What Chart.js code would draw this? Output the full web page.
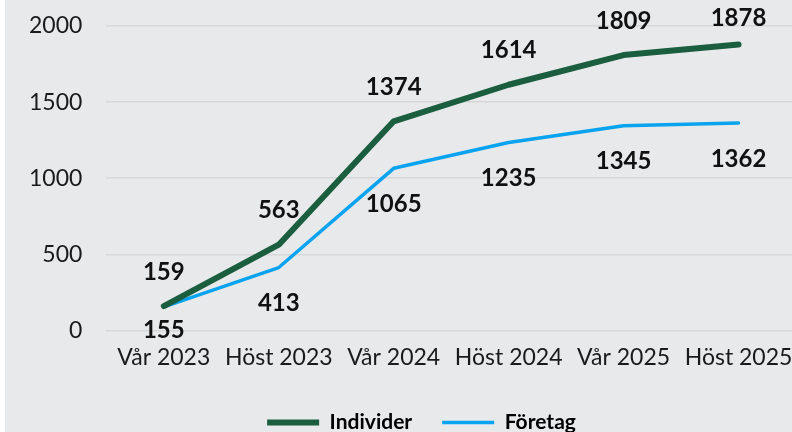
<!DOCTYPE html>
<html>
<head>
<meta charset="utf-8">
<script src="https://cdn.jsdelivr.net/npm/chart.js@4/dist/chart.umd.min.js"></script>
<style>
  html, body { margin: 0; padding: 0; background: #ffffff; overflow: hidden; }
  #wrap { position: absolute; left: 5px; top: 0; width: 792px; height: 443px; background: #e8e9eb; }
</style>
</head>
<body>
<div id="wrap"><canvas id="chart"></canvas></div>
<script>
var categories = ["Vår 2023", "Höst 2023", "Vår 2024", "Höst 2024", "Vår 2025", "Höst 2025"];
var individer = [159, 563, 1374, 1614, 1809, 1878];
var foretag = [155, 413, 1065, 1235, 1345, 1362];
var yTicks = [0, 500, 1000, 1500, 2000];

var FONT = "Lato, 'DejaVu Sans', sans-serif";

// draws the value next to each point: above for the first series, below for the second
var valueLabels = {
    id: "valueLabels",
    afterLayout: function (chart) {
        // nudge the legend a bit to the right, as in the original
        chart.legend.left += 21;
        chart.legend.right += 21;
    },
    afterDatasetsDraw: function (chart) {
        var ctx = chart.ctx;
        ctx.save();
        ctx.font = "bold 24px " + FONT;
        ctx.fillStyle = "#111111";
        ctx.textAlign = "center";
        ctx.textBaseline = "middle";
        chart.data.datasets.forEach(function (ds, i) {
            var meta = chart.getDatasetMeta(i);
            meta.data.forEach(function (pt, j) {
                var y;
                if (i === 0) {
                    y = Math.max(pt.y - 34, 18);
                } else {
                    y = pt.y + (j === 0 ? 23 : 36);
                }
                ctx.fillText(String(ds.data[j]), pt.x, y);
            });
        });
        ctx.restore();
    }
};

new Chart(document.getElementById("chart"), {
    type: "line",
    data: {
        labels: categories,
        datasets: [
            {
                label: "Individer",
                data: individer,
                borderColor: "#1b5e3f",
                backgroundColor: "#1b5e3f",
                borderWidth: 6,
                pointRadius: 0,
                borderCapStyle: "round",
                borderJoinStyle: "round",
                tension: 0
            },
            {
                label: "Företag",
                data: foretag,
                borderColor: "#0aa3ef",
                backgroundColor: "#0aa3ef",
                borderWidth: 3.5,
                pointRadius: 0,
                borderCapStyle: "round",
                borderJoinStyle: "round",
                tension: 0
            }
        ]
    },
    options: {
        responsive: true,
        maintainAspectRatio: false,
        animation: false,
        layout: { padding: { top: 26, left: 0, right: 1, bottom: 0 } },
        scales: {
            x: {
                offset: true,
                grid: { display: false, drawTicks: false },
                border: { display: false },
                ticks: {
                    color: "#1a1a1a",
                    font: { family: FONT, size: 23 },
                    padding: 13,
                    maxRotation: 0,
                    minRotation: 0,
                    autoSkip: false
                },
                afterFit: function (axis) {
                    axis.paddingLeft = 0;
                    axis.paddingRight = 0;
                    axis.height -= 2;
                }
            },
            y: {
                min: 0,
                max: 2000,
                afterBuildTicks: function (axis) {
                    axis.ticks = yTicks.map(function (v) { return { value: v }; });
                },
                afterFit: function (axis) {
                    axis.paddingTop = 0;
                    axis.paddingBottom = 0;
                },
                grid: { color: "#d6d7d9", lineWidth: 1.5, drawTicks: false },
                border: { display: false },
                ticks: {
                    color: "#1a1a1a",
                    font: { family: FONT, size: 23 },
                    padding: 24,
                    callback: function (v) { return String(v); }
                }
            }
        },
        plugins: {
            tooltip: { enabled: false },
            legend: {
                position: "bottom",
                labels: {
                    color: "#111111",
                    font: { family: FONT, size: 21, weight: "bold" },
                    boxWidth: 52,
                    boxHeight: 0,
                    padding: 30,
                    generateLabels: function (chart) {
                        return chart.data.datasets.map(function (ds, i) {
                            return {
                                text: ds.label,
                                strokeStyle: ds.borderColor,
                                fillStyle: ds.borderColor,
                                lineWidth: i === 0 ? 6 : 3.5,
                                lineCap: "round",
                                datasetIndex: i
                            };
                        });
                    }
                }
            }
        }
    },
    plugins: [valueLabels]
});
</script>
</body>
</html>
